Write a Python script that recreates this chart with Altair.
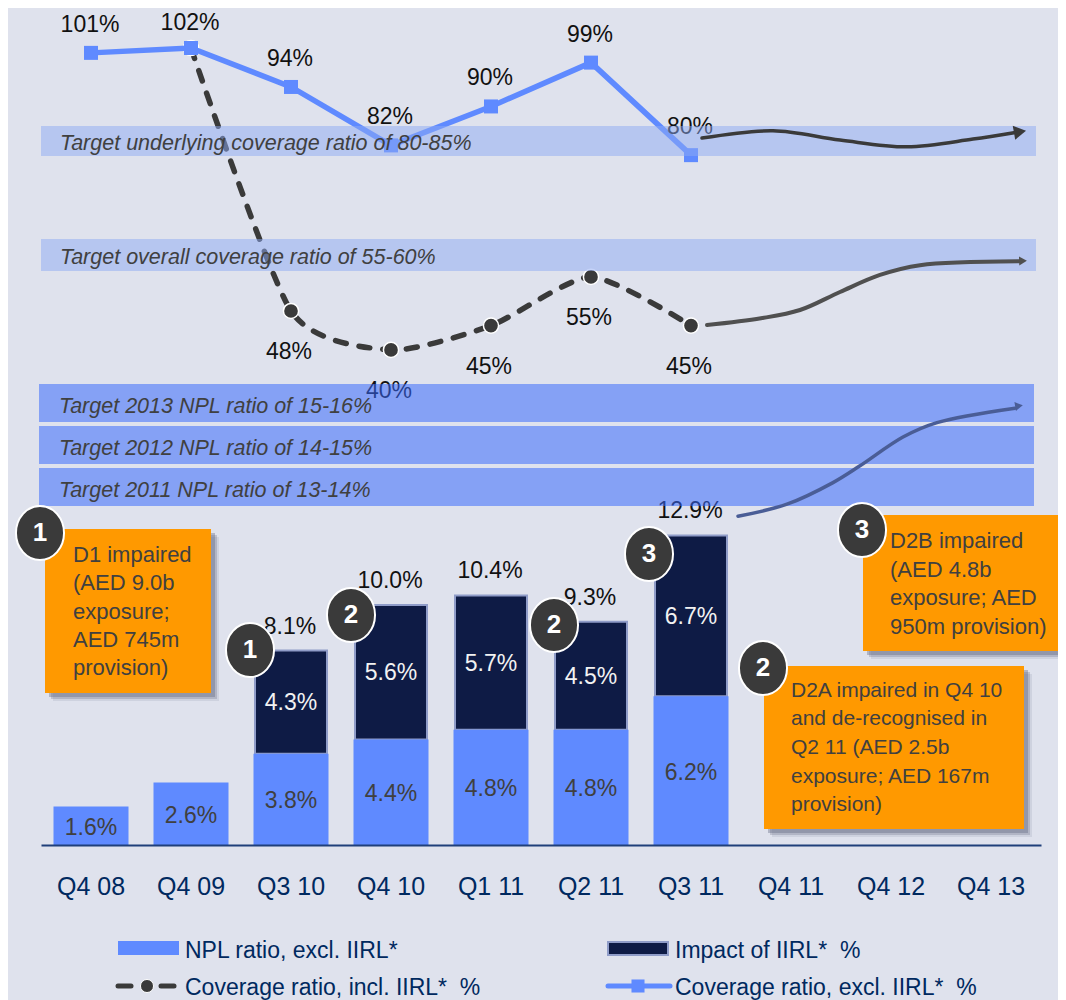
import altair as alt
import pandas as pd

# ---- data ----
quarters = ["Q4 08", "Q4 09", "Q3 10", "Q4 10", "Q1 11", "Q2 11", "Q3 11", "Q4 11", "Q4 12", "Q4 13"]
bar_quarters = quarters[:7]
npl_ratio = [1.6, 2.6, 3.8, 4.4, 4.8, 4.8, 6.2]
iirl_impact = [None, None, 4.3, 5.6, 5.7, 4.5, 6.7]
npl_total = [None, None, 8.1, 10.0, 10.4, 9.3, 12.9]
coverage_excl = [101, 102, 94, 82, 90, 99, 80]
coverage_incl = [None, 102, 48, 40, 45, 55, 45]

# projected paths: position in quarter slots, value on the series' own scale
arrow_top_x = [6.11, 6.82, 7.49, 8.16, 8.82, 9.23]
arrow_top_y = [83.5, 85.0, 83.1, 81.7, 83.3, 84.6]
arrow_mid_x = [6.16, 6.7, 7.09, 7.49, 7.89, 8.29, 9.29]
arrow_mid_y = [45.1, 46.5, 48.2, 51.9, 55.4, 57.4, 58.2]
arrow_low_x = [6.47, 6.96, 7.42, 7.69, 8.12, 8.46, 9.24]
arrow_low_y = [13.7, 14.2, 15.1, 15.8, 17.0, 17.6, 18.2]

target_top = [("Target underlying coverage ratio of 80-85%", 126, 156),
              ("Target overall coverage ratio of 55-60%", 239, 271)]
target_low = [("Target 2013 NPL ratio of 15-16%", 384, 422),
              ("Target 2012 NPL ratio of 14-15%", 426, 464),
              ("Target 2011 NPL ratio of 13-14%", 468, 506)]

notes = [
    ((45, 211, 529, 693), 73, [555, 583, 612, 640, 668], 22,
     ["D1 impaired", "(AED 9.0b", "exposure;", "AED 745m", "provision)"]),
    ((863, 1064, 515, 651), 890, [541, 570, 598, 627], 22,
     ["D2B impaired", "(AED 4.8b", "exposure; AED", "950m provision)"]),
    ((764, 1024, 666, 829), 791, [691, 719, 748, 777, 805], 21,
     ["D2A impaired in Q4 10", "and de-recognised in", "Q2 11 (AED 2.5b", "exposure; AED 167m", "provision)"]),
]
badges = [("1", 40, 533), ("1", 250, 650), ("2", 351, 615), ("2", 554, 625),
          ("3", 649, 554), ("3", 862, 530), ("2", 763, 668)]

# ---- colours ----
BG = "#DFE2ED"
BLUE = "#5F8AFF"
NAVY = "#0E1B45"
EDGE = "#8F9CC8"
DARK = "#3A3A3A"
GREY = "#404040"
AXIS = "#00295F"
ORANGE = "#FF9900"
FONT = "Liberation Sans"
OFF = 8  # page margin

# ---- scales ----
X_BAND = alt.Scale(domain=quarters, range=[33, 1033], paddingInner=0.255, paddingOuter=0.1275)
X_SLOT = alt.Scale(domain=[-0.5, 9.5], range=[33, 1033], nice=False, zero=False)
Y_NPL = alt.Scale(domain=[0, 34.875], range=[837, 0], nice=False)
Y_COV = alt.Scale(domain=[0, 110.214], range=[536.74, 0], nice=False)

xb = alt.X("q:N", scale=X_BAND, axis=None)
blank = alt.Data(values=[{"k": 1}])


def rect(x0, x1, y0, y1, color, opacity=1.0):
    return alt.Chart(blank).mark_rect(color=color, opacity=opacity).encode(
        x=alt.value(x0 - OFF), x2=alt.value(x1 - OFF),
        y=alt.value(y0 - OFF), y2=alt.value(y1 - OFF))


def label(text, x, y, size=22, color=GREY, align="left", **kw):
    return alt.Chart(blank).mark_text(
        text=text, font=FONT, fontSize=size, color=color, align=align, baseline="middle", **kw
    ).encode(x=alt.value(x - OFF), y=alt.value(y - OFF))


layers = []

# bars
bars = pd.DataFrame({"q": bar_quarters, "npl": npl_ratio, "iirl": iirl_impact, "total": npl_total})
bars["zero"] = 0.0
bars["npl_mid"] = bars["npl"] / 2
bars["upper_mid"] = (bars["npl"] + bars["total"]) / 2
stack = bars.dropna()
stack_lab = stack.assign(t=[f"{v:.1f}%" for v in stack["iirl"]], tot=[f"{v:.1f}%" for v in stack["total"]])
low_lab = bars.assign(t=[f"{v:.1f}%" for v in bars["npl"]])

layers.append(
    alt.Chart(stack).mark_bar(size=72, color=NAVY, stroke=EDGE, strokeWidth=2).encode(
        x=xb, y=alt.Y("npl:Q", scale=Y_NPL, axis=None), y2="total:Q"))
layers.append(
    alt.Chart(bars).mark_bar(size=75, color=BLUE).encode(
        x=alt.X("q:N", scale=X_BAND, title=None, axis=alt.Axis(
            orient="bottom", offset=-155, domainColor="#1F3F7A", domainWidth=2, ticks=False,
            grid=False, labelFont=FONT, labelFontSize=25, labelColor=AXIS, labelPadding=29,
            labelAngle=0, zindex=1)),
        y=alt.Y("zero:Q", scale=Y_NPL, axis=None), y2="npl:Q"))
layers.append(
    alt.Chart(low_lab).mark_text(font=FONT, fontSize=23, color=GREY, dy=2).encode(
        x=xb, y=alt.Y("npl_mid:Q", scale=Y_NPL, axis=None), text="t:N"))
layers.append(
    alt.Chart(stack_lab).mark_text(font=FONT, fontSize=23, color="#F2F2F2", dy=1).encode(
        x=xb, y=alt.Y("upper_mid:Q", scale=Y_NPL, axis=None), text="t:N"))
layers.append(
    alt.Chart(stack_lab).mark_text(font=FONT, fontSize=23, color="#111111", dy=-24, dx=-1).encode(
        x=xb, y=alt.Y("total:Q", scale=Y_NPL, axis=None), text="tot:N"))

# coverage lines
cov = pd.DataFrame({"q": bar_quarters, "excl": coverage_excl, "incl": coverage_incl})
incl = cov.dropna(subset=["incl"]).assign(t=lambda d: [f"{v:.0f}%" for v in d["incl"]])
excl = cov.assign(t=[f"{v:.0f}%" for v in cov["excl"]])

layers.append(
    alt.Chart(incl).mark_line(color=DARK, strokeWidth=5.5, strokeDash=[11, 13], strokeCap="round",
                              interpolate="cardinal", tension=0.35).encode(
        x=xb, y=alt.Y("incl:Q", scale=Y_COV, axis=None)))
layers.append(
    alt.Chart(incl).mark_point(filled=True, shape="circle", size=230, color=DARK, opacity=1,
                               stroke="white", strokeWidth=1.5).encode(
        x=xb, y=alt.Y("incl:Q", scale=Y_COV, axis=None)))
layers.append(
    alt.Chart(excl).mark_line(color=BLUE, strokeWidth=5.5).encode(
        x=xb, y=alt.Y("excl:Q", scale=Y_COV, axis=None)))
layers.append(
    alt.Chart(excl).mark_point(filled=True, shape="square", size=196, color=BLUE, opacity=1).encode(
        x=xb, y=alt.Y("excl:Q", scale=Y_COV, axis=None)))
# the topmost label sits a little lower so it stays inside the drawing area
layers.append(
    alt.Chart(excl[excl["excl"] < 102]).mark_text(font=FONT, fontSize=23, color="#111111", dy=-28, dx=-1).encode(
        x=xb, y=alt.Y("excl:Q", scale=Y_COV, axis=None), text="t:N"))
layers.append(
    alt.Chart(excl[excl["excl"] >= 102]).mark_text(font=FONT, fontSize=23, color="#111111", dy=-25, dx=-1).encode(
        x=xb, y=alt.Y("excl:Q", scale=Y_COV, axis=None), text="t:N"))
layers.append(
    alt.Chart(incl[incl["q"] != "Q4 09"]).mark_text(font=FONT, fontSize=23, color="#111111", dy=41, dx=-2).encode(
        x=xb, y=alt.Y("incl:Q", scale=Y_COV, axis=None), text="t:N"))

# translucent target bands, over the lines as in the slide
for text, y0, y1 in target_top:
    layers.append(rect(41, 1036, y0, y1, "#8EAAF3", 0.5))
for text, y0, y1 in target_low:
    layers.append(rect(39, 1034, y0, y1, "#396AFC", 0.54))
for text, y0, y1 in target_top:
    layers.append(label(text, 60, (y0 + y1) / 2 + 2.5, size=21.5, fontStyle="italic"))
for text, y0, y1 in target_low:
    layers.append(label(text, 59, (y0 + y1) / 2 + 3.5, size=21.5, fontStyle="italic"))


# trajectory arrows
def arrow(xs, ys, scale, color, width, head_x, head_y, head_size, angle):
    d = pd.DataFrame({"x": xs, "y": ys})
    h = pd.DataFrame({"x": [head_x], "y": [head_y]})
    return [
        alt.Chart(d).mark_line(color=color, strokeWidth=width, interpolate="catmull-rom", strokeCap="round").encode(
            x=alt.X("x:Q", scale=X_SLOT, axis=None), y=alt.Y("y:Q", scale=scale, axis=None)),
        alt.Chart(h).mark_point(filled=True, shape="triangle-right", size=head_size, color=color, opacity=1,
                                angle=angle).encode(
            x=alt.X("x:Q", scale=X_SLOT, axis=None), y=alt.Y("y:Q", scale=scale, axis=None)),
    ]


layers += arrow(arrow_top_x, arrow_top_y, Y_COV, DARK, 3.5, 9.29, 84.8, 200, 350)
layers += arrow(arrow_mid_x, arrow_mid_y, Y_COV, "#505050", 4, 9.32, 58.3, 80, 358)
layers += arrow(arrow_low_x, arrow_low_y, Y_NPL, "#4A5D96", 3.5, 9.28, 18.3, 80, 350)

# orange notes with soft shadow
for (x0, x1, y0, y1), tx, ys, fs, lines in notes:
    for off, op in [(8, 0.12), (6, 0.25), (4, 0.35)]:
        layers.append(rect(x0 + off, x1 + off, y0 + off, y1 + off, "#5A5F78", op))
    layers.append(rect(x0, x1, y0, y1, ORANGE))
    for yy, line in zip(ys, lines):
        layers.append(label(line, tx, yy, size=fs))

# numbered badges
OVAL = "M-0.89,0A0.89,1 0 1 1 0.89,0A0.89,1 0 1 1 -0.89,0Z"
for n, bx, by in badges:
    layers.append(
        alt.Chart(blank).mark_point(filled=True, shape=OVAL, size=2916, color=DARK, opacity=1,
                                    stroke="white", strokeWidth=2).encode(
            x=alt.value(bx - OFF), y=alt.value(by - OFF)))
    layers.append(label(n, bx, by, size=26, color="white", align="center", fontWeight="bold"))

# hand-placed legend, two rows
layers.append(rect(118, 179, 941, 955, BLUE))
layers.append(label("NPL ratio, excl. IIRL*", 185, 951, size=23, color=AXIS))
layers.append(alt.Chart(blank).mark_rect(color=NAVY, stroke=EDGE, strokeWidth=2).encode(
    x=alt.value(608 - OFF), x2=alt.value(668 - OFF), y=alt.value(942 - OFF), y2=alt.value(955 - OFF)))
layers.append(label("Impact of IIRL*\u00a0\u00a0%", 675, 951, size=23, color=AXIS))

for a, b in [(118, 131), (161, 174)]:
    layers.append(alt.Chart(blank).mark_rule(color=DARK, strokeWidth=5, strokeCap="round").encode(
        x=alt.value(a - OFF), x2=alt.value(b - OFF), y=alt.value(986 - OFF)))
layers.append(alt.Chart(blank).mark_point(filled=True, shape="circle", size=170, color=DARK, opacity=1,
                                          stroke="white", strokeWidth=1).encode(
    x=alt.value(147 - OFF), y=alt.value(986 - OFF)))
layers.append(label("Coverage ratio, incl. IIRL*\u00a0\u00a0%", 185, 988, size=23, color=AXIS))

layers.append(alt.Chart(blank).mark_rule(color=BLUE, strokeWidth=5, strokeCap="round").encode(
    x=alt.value(608 - OFF), x2=alt.value(670 - OFF), y=alt.value(986 - OFF)))
layers.append(alt.Chart(blank).mark_point(filled=True, shape="square", size=170, color=BLUE, opacity=1).encode(
    x=alt.value(638 - OFF), y=alt.value(986 - OFF)))
layers.append(label("Coverage ratio, excl. IIRL*\u00a0\u00a0%", 675, 988, size=23, color=AXIS))

chart = (
    alt.layer(*layers)
    .resolve_scale(x="independent", y="independent")
    .properties(width=1050, height=992, padding=0, background=BG,
                autosize=alt.AutoSizeParams(type="none"))
    .configure_view(stroke=None)
)

chart.save("out.html", embed_options={"renderer": "svg", "actions": False})
